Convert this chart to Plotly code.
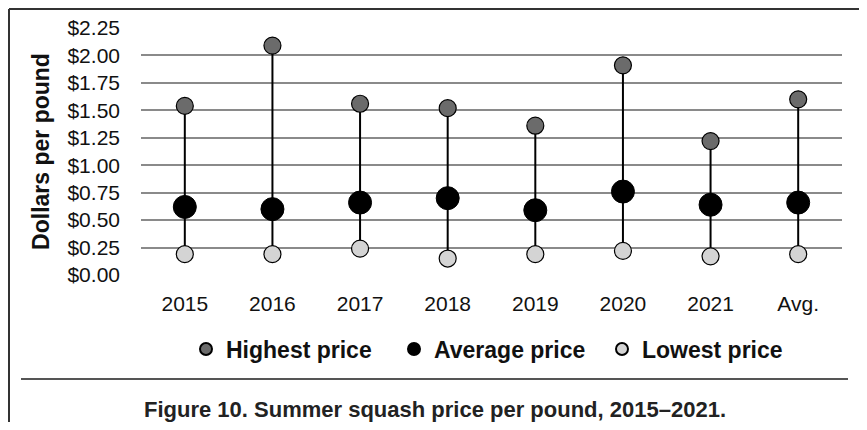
import plotly.graph_objects as go

categories = ["2015", "2016", "2017", "2018", "2019", "2020", "2021", "Avg."]
highest = [1.54, 2.09, 1.56, 1.52, 1.36, 1.91, 1.22, 1.60]
average = [0.62, 0.60, 0.66, 0.70, 0.59, 0.76, 0.64, 0.66]
lowest = [0.19, 0.19, 0.24, 0.15, 0.19, 0.22, 0.17, 0.19]
y_ticks = [0, 0.25, 0.5, 0.75, 1.0, 1.25, 1.5, 1.75, 2.0, 2.25]
y_tick_labels = ["$0.00", "$0.25", "$0.50", "$0.75", "$1.00", "$1.25", "$1.50", "$1.75", "$2.00", "$2.25"]

FONT = "Liberation Sans, Arial, Helvetica, sans-serif"
OFF = 8  # page body margin: figure origin sits at page (8, 8)
W, H = 867 - OFF, 430 - 2 * OFF
# plot area in page pixels: x 141..842, y 28..275
L = 141 - OFF
T = 28 - OFF
R = W - (842 - OFF)
B = H - (275 - OFF)
PW, PH = W - L - R, H - T - B


def px_x(page_x):
    return (page_x - OFF - L) / PW


def px_y(page_y):
    return (H - B - (page_y - OFF)) / PH


# vertical connector lines low -> high
lx, ly = [], []
for c, lo, hi in zip(categories, lowest, highest):
    lx += [c, c, None]
    ly += [lo, hi, None]

fig = go.Figure()
fig.add_trace(go.Scatter(x=lx, y=ly, mode="lines", line=dict(color="black", width=2),
                         showlegend=False, hoverinfo="skip"))
fig.add_trace(go.Scatter(x=categories, y=highest, mode="markers", name="Highest price",
                         marker=dict(size=17, color="#6b6b6b", line=dict(color="black", width=1.2))))
fig.add_trace(go.Scatter(x=categories, y=average, mode="markers", name="Average price",
                         marker=dict(size=23, color="black", line=dict(color="black", width=1))))
fig.add_trace(go.Scatter(x=categories, y=lowest, mode="markers", name="Lowest price",
                         marker=dict(size=17, color="#d4d4d4", line=dict(color="black", width=1.2))))

border_color = "#333"
fig.update_layout(
    template="none",
    width=W, height=H,
    margin=dict(l=L, r=R, t=T, b=B, pad=0, autoexpand=False),
    paper_bgcolor="white", plot_bgcolor="white",
    font=dict(family=FONT, color="#111", size=21),
    showlegend=True,
    legend=dict(orientation="h", x=px_x(186), xanchor="left", y=px_y(349), yanchor="middle",
                font=dict(family=FONT, size=23, color="#111", weight="bold"),
                itemsizing="constant", entrywidth=163, traceorder="normal",
                bgcolor="rgba(0,0,0,0)", borderwidth=0),
    xaxis=dict(type="category", categoryorder="array", categoryarray=categories,
               showgrid=False, zeroline=False, showline=False, ticks="", automargin=False,
               tickfont=dict(size=21, color="#111"), ticklabelstandoff=14,
               range=[-0.5, len(categories) - 0.5]),
    yaxis=dict(range=[0, 2.25], tickvals=y_ticks, ticktext=y_tick_labels, automargin=False,
               showgrid=True, gridcolor="#8a8a8a", gridwidth=1.6,
               zeroline=False, showline=False, ticks="",
               tickfont=dict(size=21, color="#111"), ticklabelstandoff=20,
               title=dict(text="Dollars per pound", standoff=11,
                          font=dict(family=FONT, size=23, color="#111", weight="bold"))),
    shapes=[
        # outer frame (left, top, right)
        dict(type="line", xref="paper", yref="paper",
             x0=px_x(9), x1=px_x(9), y0=px_y(440), y1=px_y(9),
             line=dict(color=border_color, width=2)),
        dict(type="line", xref="paper", yref="paper",
             x0=px_x(9), x1=px_x(862), y0=px_y(9), y1=px_y(9),
             line=dict(color=border_color, width=2)),
        dict(type="line", xref="paper", yref="paper",
             x0=px_x(862), x1=px_x(862), y0=px_y(440), y1=px_y(9),
             line=dict(color=border_color, width=2)),
        # separator above caption
        dict(type="line", xref="paper", yref="paper",
             x0=px_x(21), x1=px_x(848), y0=px_y(379), y1=px_y(379),
             line=dict(color="#555", width=2)),
    ],
    annotations=[
        dict(text="Figure 10. Summer squash price per pound, 2015–2021.",
             xref="paper", yref="paper", x=px_x(435), y=px_y(409),
             xanchor="center", yanchor="middle", showarrow=False,
             font=dict(family=FONT, size=22, color="#222", weight="bold")),
    ],
)

fig.write_html("out.html")
